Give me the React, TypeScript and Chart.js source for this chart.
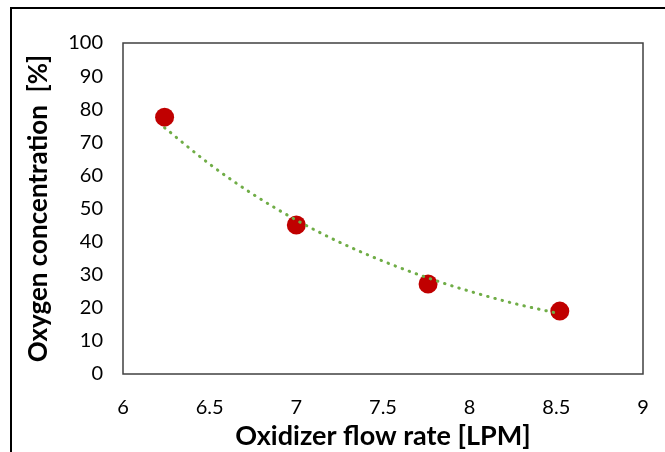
import React, { useEffect, useRef } from "react";
import { Chart, registerables } from "chart.js";

Chart.register(...registerables);

const flowRate = [6.24, 7.0, 7.76, 8.52];
const oxygen = [77.6, 45.0, 27.2, 19.0];

const trendX = [6.24, 6.5, 6.75, 7.0, 7.25, 7.5, 7.75, 8.0, 8.25, 8.52];
const trendY = [74.4, 63.4, 54.3, 46.5, 39.8, 34.1, 29.2, 25.0, 21.4, 18.2];

const xTicks = [6, 6.5, 7, 7.5, 8, 8.5, 9];
const yTicks = [0, 10, 20, 30, 40, 50, 60, 70, 80, 90, 100];

const FONT = "Lato, 'Open Sans', sans-serif";

const framePlugin = {
  id: "plotFrame",
  afterDatasetsDraw(chart: any) {
    const { ctx, chartArea } = chart;
    ctx.save();
    ctx.strokeStyle = "#404040";
    ctx.lineWidth = 1.5;
    ctx.strokeRect(chartArea.left, chartArea.top, chartArea.right - chartArea.left, chartArea.bottom - chartArea.top);
    ctx.restore();
  },
};

export default function App() {
  const ref = useRef<HTMLCanvasElement | null>(null);

  useEffect(() => {
    document.body.style.margin = "0";
    const canvas = ref.current;
    if (!canvas) return;
    const chart = new Chart(canvas, {
      type: "scatter",
      data: {
        datasets: [
          {
            label: "Points",
            data: flowRate.map((x, i) => ({ x, y: oxygen[i] })),
            backgroundColor: "#C00000",
            borderColor: "#C00000",
            pointRadius: 9.5,
            pointHoverRadius: 9.5,
            borderWidth: 0,
            showLine: false,
            order: 2,
          },
          {
            label: "Trend",
            data: trendX.map((x, i) => ({ x, y: trendY[i] })),
            showLine: true,
            borderColor: "#70AD47",
            borderWidth: 3,
            borderDash: [0.5, 7],
            borderCapStyle: "round",
            pointRadius: 0,
            cubicInterpolationMode: "monotone",
            order: 1,
          } as any,
        ],
      },
      options: {
        animation: false,
        responsive: false,
        maintainAspectRatio: false,
        layout: { padding: { left: 0, top: 43, right: 22, bottom: 0 } },
        plugins: {
          legend: { display: false },
          tooltip: { enabled: false },
        },
        scales: {
          x: {
            type: "linear",
            min: 6,
            max: 9,
            afterBuildTicks: (s: any) => {
              s.ticks = xTicks.map((v) => ({ value: v }));
            },
            afterFit: (s: any) => {
              s.height = 78;
              s.paddingLeft = 0;
              s.paddingRight = 0;
            },
            grid: { display: false, drawTicks: false },
            border: { display: false },
            ticks: {
              padding: 22,
              color: "#000",
              font: { family: FONT, size: 20 },
              callback: (v: any) => String(v),
            },
            title: {
              display: true,
              text: "Oxidizer flow rate [LPM]",
              color: "#000",
              font: { family: FONT, size: 27, weight: "bold" },
              padding: { top: 0, bottom: 0 },
            },
          },
          y: {
            type: "linear",
            min: 0,
            max: 100,
            afterBuildTicks: (s: any) => {
              s.ticks = yTicks.map((v) => ({ value: v }));
            },
            afterFit: (s: any) => {
              s.width = 123;
            },
            grid: { display: false, drawTicks: false },
            border: { display: false },
            ticks: {
              padding: 20,
              color: "#000",
              font: { family: FONT, size: 20 },
            },
            title: {
              display: true,
              text: "Oxygen concentration  [%]",
              color: "#000",
              font: { family: FONT, size: 26, weight: "bold" },
              padding: { top: 23, bottom: 0 },
            },
          },
        },
      },
      plugins: [framePlugin],
    });
    return () => chart.destroy();
  }, []);

  return (
    <div style={{ position: "relative", width: 665, height: 452, overflow: "hidden", background: "#fff" }}>
      <div
        style={{
          position: "absolute",
          left: 10,
          top: 7,
          width: 720,
          height: 520,
          border: "2px solid #000",
          boxSizing: "border-box",
        }}
      />
      <canvas ref={ref} width={665} height={452} style={{ position: "absolute", left: 0, top: 0 }} />
    </div>
  );
}
